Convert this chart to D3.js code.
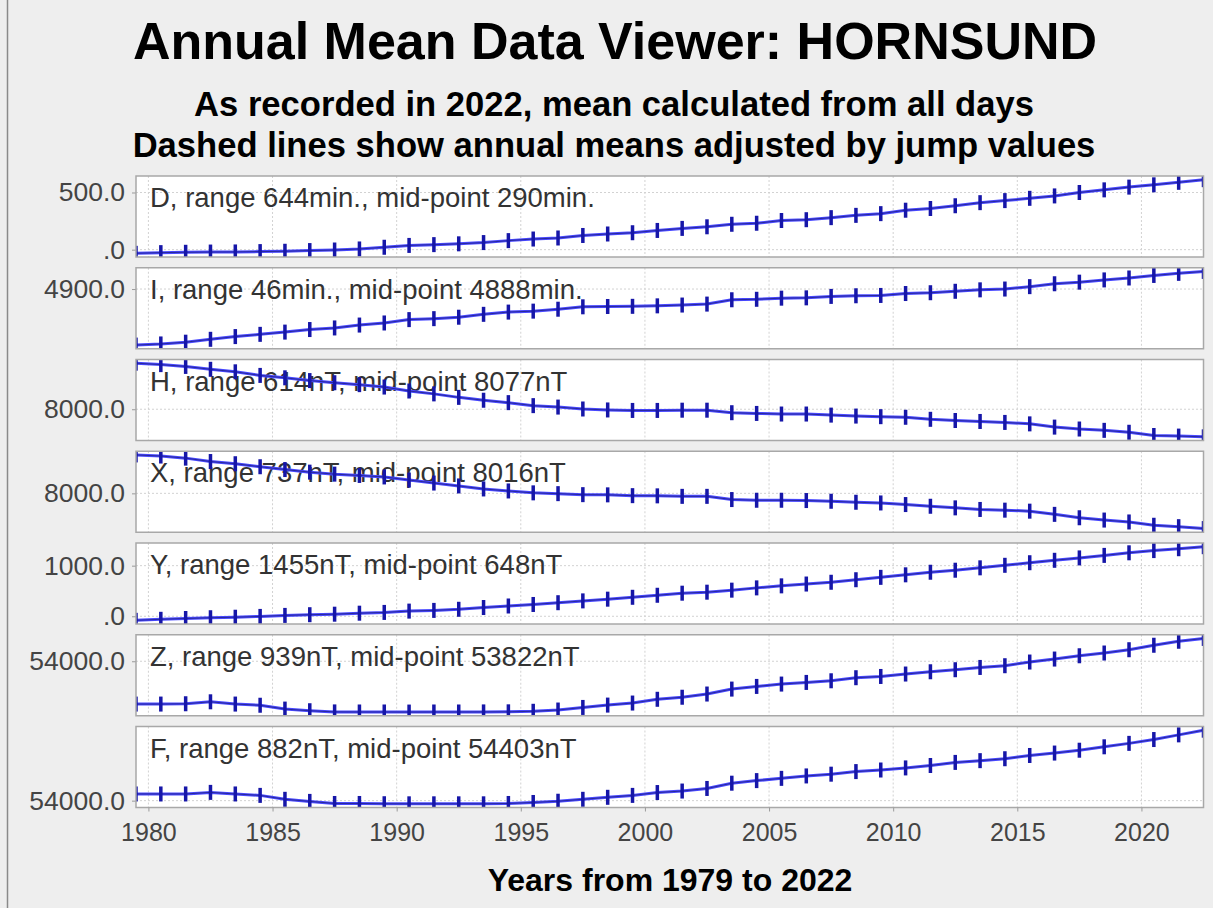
<!DOCTYPE html>
<html>
<head>
<meta charset="utf-8">
<script src="https://cdn.jsdelivr.net/npm/d3@7/dist/d3.min.js"></script>
<style>
  html, body { margin: 0; padding: 0; background: #eeeeee; }
  svg { display: block; }
</style>
</head>
<body>
<svg id="chart" width="1213" height="908"></svg>
<script>
// years of the annual means (plotted at mid-year)
const years = [1979, 1980, 1981, 1982, 1983, 1984, 1985, 1986, 1987, 1988, 1989,
  1990, 1991, 1992, 1993, 1994, 1995, 1996, 1997, 1998, 1999, 2000,
  2001, 2002, 2003, 2004, 2005, 2006, 2007, 2008, 2009, 2010, 2011,
  2012, 2013, 2014, 2015, 2016, 2017, 2018, 2019, 2020, 2021, 2022];

// annual means, D and I in minutes, the rest in nT
const dValues = [-32, -26, -23, -21, -20, -17, -14, -8, -3, 6, 21,
  37, 44, 51, 62, 79, 93, 102, 124, 137, 148, 168,
  186, 200, 222, 231, 255, 262, 280, 300, 315, 345, 360,
  384, 411, 429, 449, 470, 500, 523, 547, 567, 589, 612];
const iValues = [4865.0, 4865.7, 4866.8, 4868.6, 4870.3, 4871.7, 4873.1, 4874.7, 4875.7, 4877.5, 4878.8,
  4880.9, 4881.5, 4882.4, 4884.2, 4885.6, 4886.2, 4887.4, 4888.9, 4889.1, 4889.2, 4889.5,
  4890.0, 4890.6, 4893.3, 4893.6, 4894.3, 4894.5, 4895.4, 4895.8, 4896.0, 4897.2, 4897.7,
  4898.6, 4899.5, 4900.0, 4901.5, 4903.3, 4904.3, 4905.7, 4906.9, 4908.5, 4909.8, 4911.0];
const hValues = [8384, 8372, 8357, 8333, 8312, 8282, 8262, 8239, 8221, 8205, 8185,
  8152, 8128, 8099, 8075, 8055, 8030, 8018, 8002, 7994, 7990, 7990,
  7992, 7992, 7971, 7965, 7960, 7960, 7951, 7943, 7938, 7933, 7916,
  7906, 7898, 7890, 7878, 7851, 7835, 7824, 7808, 7781, 7776, 7770];
const xValues = [8384, 8373, 8352, 8318, 8296, 8266, 8238, 8212, 8192, 8179, 8164,
  8133, 8103, 8074, 8044, 8024, 8005, 7997, 7987, 7985, 7977, 7975,
  7970, 7970, 7938, 7931, 7931, 7928, 7921, 7911, 7904, 7888, 7871,
  7855, 7839, 7832, 7822, 7790, 7756, 7733, 7714, 7681, 7667, 7648];
const yValues = [-80, -60, -44, -29, -19, -3, 17, 31, 41, 61, 76,
  102, 116, 138, 173, 203, 233, 268, 304, 338, 375, 415,
  456, 476, 516, 561, 601, 637, 672, 722, 769, 819, 870,
  910, 957, 1007, 1058, 1106, 1153, 1203, 1254, 1298, 1335, 1375];
const zValues = [53454, 53454, 53458, 53483, 53454, 53439, 53390, 53369, 53354, 53353, 53353,
  53352, 53353, 53353, 53354, 53355, 53362, 53378, 53411, 53441, 53467, 53515,
  53541, 53582, 53645, 53679, 53709, 53730, 53751, 53790, 53806, 53837, 53866,
  53892, 53921, 53943, 53990, 54028, 54070, 54105, 54147, 54204, 54255, 54291];
const fValues = [54080, 54080, 54080, 54099, 54080, 54063, 54016, 53991, 53966, 53966, 53963,
  53962, 53962, 53962, 53962, 53966, 53978, 53993, 54016, 54040, 54063, 54097,
  54115, 54146, 54209, 54240, 54267, 54296, 54317, 54348, 54367, 54392, 54421,
  54458, 54479, 54502, 54541, 54570, 54604, 54645, 54686, 54732, 54788, 54844];

const panelLabels = [
  "D, range 644min., mid-point 290min.",
  "I, range 46min., mid-point 4888min.",
  "H, range 614nT, mid-point 8077nT",
  "X, range 737nT, mid-point 8016nT",
  "Y, range 1455nT, mid-point 648nT",
  "Z, range 939nT, mid-point 53822nT",
  "F, range 882nT, mid-point 54403nT"
];
const seriesValues = [dValues, iValues, hValues, xValues, yValues, zValues, fValues];
const yTicks = [[0, 500], [4900], [8000], [8000], [0, 1000], [54000], [54000]];
const xTicks = [1980, 1985, 1990, 1995, 2000, 2005, 2010, 2015, 2020];

const titleText = "Annual Mean Data Viewer: HORNSUND";
const subTitles = ["As recorded in 2022, mean calculated from all days",
  "Dashed lines show annual means adjusted by jump values"];
const xTitle = "Years from 1979 to 2022";

// layout
const width = 1213, height = 908;
const left = 136, right = 1203.5;
const panelTop = 176, panelStep = 91.75, panelHeight = 81;
const font = "'Liberation Sans', Arial, sans-serif";

// java style "#.0" formatting, zero shows as ".0"
const fmt = v => v === 0 ? ".0" : d3.format(".1f")(v);

const svg = d3.select("#chart");

svg.append("rect")
  .attr("width", width).attr("height", height)
  .attr("fill", "#eeeeee");

// frame line on the left
svg.append("line")
  .attr("x1", 7.5).attr("x2", 7.5).attr("y1", 0).attr("y2", height)
  .attr("stroke", "#8a8a8a").attr("stroke-width", 1.5);

svg.append("text")
  .attr("x", 615).attr("y", 59)
  .attr("text-anchor", "middle")
  .attr("font-family", font).attr("font-weight", "bold")
  .attr("font-size", 52)
  .attr("fill", "#000")
  .text(titleText);

svg.selectAll(".subtitle")
  .data(subTitles)
  .enter()
  .append("text")
  .attr("class", "subtitle")
  .attr("x", 614)
  .attr("y", (d, i) => 116 + i * 41)
  .attr("text-anchor", "middle")
  .attr("font-family", font).attr("font-weight", "bold")
  .attr("font-size", 34.6)
  .attr("fill", "#000")
  .text(d => d);

const x = d3.scaleLinear()
  .domain([years[0] + 0.5, years[years.length - 1] + 0.5])
  .range([left, right]);

seriesValues.forEach((values, i) => {
  const top = panelTop + i * panelStep;
  const ext = d3.extent(values);
  const pad = (ext[1] - ext[0]) * 0.05;
  const y = d3.scaleLinear()
    .domain([ext[0] - pad, ext[1] + pad])
    .range([top + panelHeight, top]);

  const g = svg.append("g").attr("class", "panel");

  g.append("clipPath")
    .attr("id", "clip" + i)
    .append("rect")
    .attr("x", left).attr("y", top)
    .attr("width", right - left).attr("height", panelHeight);

  g.append("rect")
    .attr("x", left).attr("y", top)
    .attr("width", right - left).attr("height", panelHeight)
    .attr("fill", "#ffffff");

  // grid
  g.selectAll(".vgrid")
    .data(xTicks)
    .enter()
    .append("line")
    .attr("x1", d => x(d)).attr("x2", d => x(d))
    .attr("y1", top).attr("y2", top + panelHeight)
    .attr("stroke", "#d2d2d2").attr("stroke-dasharray", "2,2");

  g.selectAll(".hgrid")
    .data(yTicks[i])
    .enter()
    .append("line")
    .attr("x1", left).attr("x2", right)
    .attr("y1", d => y(d)).attr("y2", d => y(d))
    .attr("stroke", "#d2d2d2").attr("stroke-dasharray", "2,2");

  // y axis
  const yAxis = d3.axisLeft(y)
    .tickValues(yTicks[i])
    .tickSize(4)
    .tickPadding(7)
    .tickFormat(fmt);

  const ya = g.append("g")
    .attr("transform", `translate(${left},0)`)
    .call(yAxis);
  ya.select(".domain").remove();
  ya.selectAll("line").attr("stroke", "#9a9a9a");
  ya.selectAll("text")
    .attr("font-family", font).attr("font-size", 26.5)
    .attr("fill", "#444");

  g.append("text")
    .attr("x", 150).attr("y", top + 31)
    .attr("font-family", font).attr("font-size", 27.5)
    .attr("fill", "#333")
    .text(panelLabels[i]);

  const pts = values.map((v, j) => [years[j] + 0.5, v]);
  const line = d3.line().x(d => x(d[0])).y(d => y(d[1]));

  const plot = g.append("g").attr("clip-path", `url(#clip${i})`);

  plot.append("path")
    .datum(pts)
    .attr("d", line)
    .attr("fill", "none")
    .attr("stroke", "#4848ff").attr("stroke-width", 3);

  plot.append("path")
    .datum(pts)
    .attr("d", line)
    .attr("fill", "none")
    .attr("stroke", "#1c1c70").attr("stroke-width", 0.9)
    .attr("stroke-opacity", 0.8);

  plot.selectAll(".marker")
    .data(pts)
    .enter()
    .append("rect")
    .attr("class", "marker")
    .attr("x", d => x(d[0]) - 1.75)
    .attr("y", d => y(d[1]) - 7.5)
    .attr("width", 3.5).attr("height", 15)
    .attr("fill", "#1616a8");

  g.append("rect")
    .attr("x", left).attr("y", top)
    .attr("width", right - left).attr("height", panelHeight)
    .attr("fill", "none")
    .attr("stroke", "#a8a8a8").attr("stroke-width", 1.5);
});

// x axis under the last panel
const bottom = panelTop + 6 * panelStep + panelHeight;
const xAxis = d3.axisBottom(x)
  .tickValues(xTicks)
  .tickSize(4)
  .tickPadding(12)
  .tickFormat(d3.format("d"));

const xa = svg.append("g")
  .attr("transform", `translate(0,${bottom})`)
  .call(xAxis);
xa.select(".domain").remove();
xa.selectAll("line").attr("stroke", "#9a9a9a");
xa.selectAll("text")
  .attr("font-family", font).attr("font-size", 25)
  .attr("fill", "#444");

svg.append("text")
  .attr("x", 670).attr("y", 891)
  .attr("text-anchor", "middle")
  .attr("font-family", font).attr("font-weight", "bold")
  .attr("font-size", 32)
  .attr("fill", "#000")
  .text(xTitle);
</script>
</body>
</html>
